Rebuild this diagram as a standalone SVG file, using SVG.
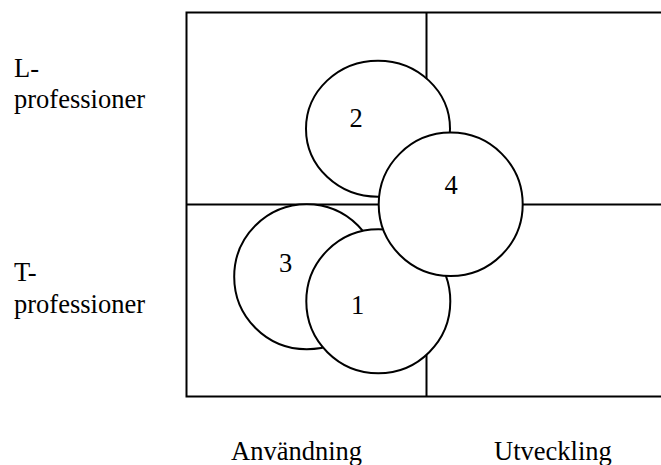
<svg xmlns="http://www.w3.org/2000/svg" width="661" height="465" viewBox="0 0 661 465">
<style>
.ln{stroke:#000;stroke-width:2;fill:none}
.c{fill:#fff;stroke:#000;stroke-width:2}
.t{font-family:'Liberation Serif','Times New Roman',Tinos,'DejaVu Serif',serif;font-size:26.5px;fill:#000}
</style>
<rect width="661" height="465" fill="#fff"/>
<g id="grid">
<rect class="ln" x="186.5" y="12.5" width="520" height="384"/>
<line class="ln" x1="426.5" y1="12.5" x2="426.5" y2="396.5"/>
<line class="ln" x1="186.5" y1="204.5" x2="706.5" y2="204.5"/>
</g>
<g id="labels" class="t" font-family="Liberation Serif, serif">
<text x="14" y="77">L-</text>
<text x="14" y="108">professioner</text>
<text x="14" y="281">T-</text>
<text x="14" y="313">professioner</text>
<text x="231" y="460">Användning</text>
<text x="494" y="460">Utveckling</text>
</g>
<g id="n2"><ellipse class="c" cx="378" cy="128.7" rx="72" ry="68"/><text class="t" x="349.5" y="127">2</text></g>
<g id="n3"><ellipse class="c" cx="306.7" cy="276.7" rx="72.5" ry="72.5"/><text class="t" x="279" y="271.5">3</text></g>
<g id="n1"><ellipse class="c" cx="378.3" cy="301.3" rx="72" ry="72"/><text class="t" x="351" y="314">1</text></g>
<g id="n4"><ellipse class="c" cx="450.7" cy="204.3" rx="72" ry="71.7"/><text class="t" x="444.5" y="194">4</text></g>
</svg>
